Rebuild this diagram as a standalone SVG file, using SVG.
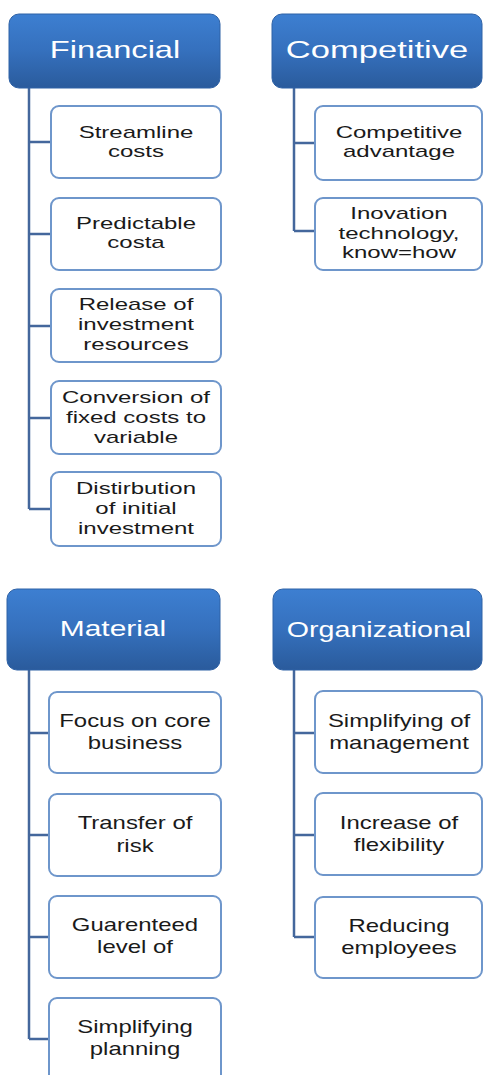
<svg xmlns="http://www.w3.org/2000/svg" width="483" height="1075" viewBox="0 0 483 1075">
<defs>
<linearGradient id="hg" x1="0" y1="0" x2="0" y2="1">
<stop offset="0" stop-color="#3d7fd1"/>
<stop offset="0.5" stop-color="#3570bd"/>
<stop offset="1" stop-color="#2a5b9c"/>
</linearGradient>
<style>
.hd{fill:url(#hg);stroke:#2f62a6;stroke-width:1}
.ht{fill:#ffffff;font-family:"Liberation Sans",Arial,sans-serif;text-anchor:middle}
.bx{fill:#ffffff;stroke:#6e96cb;stroke-width:2}
.bt{fill:#1a1a1a;font-family:"Liberation Sans",Arial,sans-serif;text-anchor:middle}
.cn{fill:none;stroke:#44679c;stroke-width:2.5}
</style>
</defs>
<rect width="483" height="1075" fill="#ffffff"/>
<g id="connectors">
<path class="cn" d="M29,88 V509 M29,142 H51 M29,234 H51 M29,326 H51 M29,418 H51 M29,509 H51"/>
<path class="cn" d="M294,88 V231 M294,143 H315 M294,231 H315"/>
<path class="cn" d="M29,670 V1039 M29,733 H49 M29,835 H49 M29,937 H49 M29,1039 H49"/>
<path class="cn" d="M294,670 V937 M294,733 H315 M294,835 H315 M294,937 H315"/>
</g>
<g id="financial">
<rect class="hd" x="9" y="14" width="211" height="74" rx="10"/>
<text class="ht" font-size="24" transform="translate(115,58) scale(1.36,1)">Financial</text>
</g>
<g id="competitive">
<rect class="hd" x="272" y="14" width="210" height="74" rx="10"/>
<text class="ht" font-size="24" transform="translate(377,58) scale(1.44,1)">Competitive</text>
</g>
<g id="material">
<rect class="hd" x="7" y="589" width="213" height="81" rx="10"/>
<text class="ht" font-size="22" transform="translate(113,636) scale(1.36,1)">Material</text>
</g>
<g id="organizational">
<rect class="hd" x="273" y="589" width="209" height="81" rx="10"/>
<text class="ht" font-size="22" transform="translate(379,637) scale(1.3,1)">Organizational</text>
</g>
<g id="f1"><rect class="bx" x="51" y="106" width="170" height="72" rx="8"/>
<text class="bt" font-size="16" transform="translate(136,0) scale(1.5,1)"><tspan x="0" y="138">Streamline</tspan><tspan x="0" y="157">costs</tspan></text></g>
<g id="f2"><rect class="bx" x="51" y="198" width="170" height="72" rx="8"/>
<text class="bt" font-size="16" transform="translate(136,0) scale(1.5,1)"><tspan x="0" y="229">Predictable</tspan><tspan x="0" y="248">costa</tspan></text></g>
<g id="f3"><rect class="bx" x="51" y="289" width="170" height="73" rx="8"/>
<text class="bt" font-size="16" transform="translate(136,0) scale(1.5,1)"><tspan x="0" y="310">Release of</tspan><tspan x="0" y="330">investment</tspan><tspan x="0" y="350">resources</tspan></text></g>
<g id="f4"><rect class="bx" x="51" y="381" width="170" height="73" rx="8"/>
<text class="bt" font-size="16" transform="translate(136,0) scale(1.5,1)"><tspan x="0" y="403">Conversion of</tspan><tspan x="0" y="423">fixed costs to</tspan><tspan x="0" y="443">variable</tspan></text></g>
<g id="f5"><rect class="bx" x="51" y="472" width="170" height="74" rx="8"/>
<text class="bt" font-size="16" transform="translate(136,0) scale(1.5,1)"><tspan x="0" y="494">Distirbution</tspan><tspan x="0" y="514">of initial</tspan><tspan x="0" y="534">investment</tspan></text></g>
<g id="c1"><rect class="bx" x="315" y="106" width="167" height="74" rx="8"/>
<text class="bt" font-size="16" transform="translate(399,0) scale(1.5,1)"><tspan x="0" y="138">Competitive</tspan><tspan x="0" y="157">advantage</tspan></text></g>
<g id="c2"><rect class="bx" x="315" y="198" width="167" height="72" rx="8"/>
<text class="bt" font-size="16" transform="translate(399,0) scale(1.5,1)"><tspan x="0" y="219">Inovation</tspan><tspan x="0" y="239">technology,</tspan><tspan x="0" y="258">know=how</tspan></text></g>
<g id="m1"><rect class="bx" x="49" y="692" width="172" height="81" rx="8"/>
<text class="bt" font-size="18" transform="translate(135,0) scale(1.33,1)"><tspan x="0" y="727">Focus on core</tspan><tspan x="0" y="749">business</tspan></text></g>
<g id="m2"><rect class="bx" x="49" y="794" width="172" height="82" rx="8"/>
<text class="bt" font-size="18" transform="translate(135,0) scale(1.33,1)"><tspan x="0" y="829">Transfer of</tspan><tspan x="0" y="852">risk</tspan></text></g>
<g id="m3"><rect class="bx" x="49" y="896" width="172" height="82" rx="8"/>
<text class="bt" font-size="18" transform="translate(135,0) scale(1.33,1)"><tspan x="0" y="931">Guarenteed</tspan><tspan x="0" y="953">level of</tspan></text></g>
<g id="m4"><rect class="bx" x="49" y="998" width="172" height="90" rx="8"/>
<text class="bt" font-size="18" transform="translate(135,0) scale(1.33,1)"><tspan x="0" y="1033">Simplifying</tspan><tspan x="0" y="1055">planning</tspan></text></g>
<g id="o1"><rect class="bx" x="315" y="691" width="167" height="82" rx="8"/>
<text class="bt" font-size="18" transform="translate(399,0) scale(1.33,1)"><tspan x="0" y="727">Simplifying of</tspan><tspan x="0" y="749">management</tspan></text></g>
<g id="o2"><rect class="bx" x="315" y="793" width="167" height="82" rx="8"/>
<text class="bt" font-size="18" transform="translate(399,0) scale(1.33,1)"><tspan x="0" y="829">Increase of</tspan><tspan x="0" y="851">flexibility</tspan></text></g>
<g id="o3"><rect class="bx" x="315" y="897" width="167" height="81" rx="8"/>
<text class="bt" font-size="18" transform="translate(399,0) scale(1.33,1)"><tspan x="0" y="932">Reducing</tspan><tspan x="0" y="954">employees</tspan></text></g>
</svg>
